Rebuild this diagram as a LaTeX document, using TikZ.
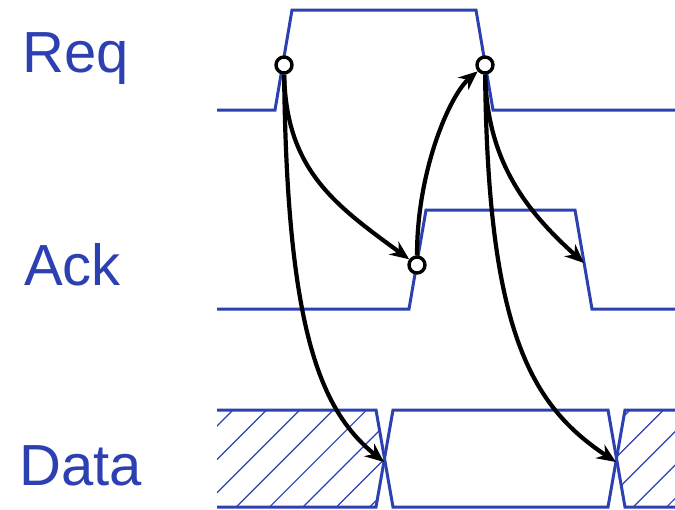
\documentclass[tikz,border=0pt]{standalone}
\usepackage{fontspec}
\setmainfont{Liberation Sans}
\usetikzlibrary{arrows.meta}
\definecolor{wblue}{RGB}{44,64,178}
\pgfdeclarelayer{front}
\pgfsetlayers{main,front}
\begin{document}
\begin{tikzpicture}[x=1pt,y=-1pt,
  wave/.style={draw=wblue,line width=3pt,line join=miter},
  hatchline/.style={draw=wblue,line width=1.2pt},
  lbl/.style={text=wblue,font=\fontsize{58}{62}\selectfont,anchor=base west,inner sep=0pt},
  dot/.style={circle,draw=black,fill=white,line width=3.4pt,minimum size=16pt,inner sep=0pt},
  arr/.style={draw=black,line width=4.2pt,-{Stealth[length=19pt,width=16pt]}}]
\useasboundingbox (0,0) rectangle (675,509);

% labels
\node[lbl] (lreq) at (22,72) {Req};
\node[lbl] (lack) at (24,285) {Ack};
\node[lbl] (ldata) at (19,485) {Data};

% waveforms
\draw[wave] (217,110) -- (275,110) -- (292,10) -- (476,10) -- (493,110) -- (675,110);
\draw[wave] (217,309) -- (409,309) -- (426,210) -- (575,210) -- (592,309) -- (675,309);
\draw[wave] (217,410) -- (376,410) -- (393,507) -- (608,507) -- (625,410) -- (675,410);
\draw[wave] (217,507) -- (376,507) -- (393,410) -- (608,410) -- (625,507) -- (675,507);

% hatching
\begin{scope}
  \clip (217,410) -- (376,410) -- (384.5,458.5) -- (376,507) -- (217,507) -- cycle;
  \foreach \k in {-1,...,9} {
    \draw[hatchline] ({643+33.4*\k-530},530) -- ({643+33.4*\k-390},390);
  }
\end{scope}
\begin{scope}
  \clip (675,410) -- (625,410) -- (616.5,458.5) -- (625,507) -- (675,507) -- cycle;
  \foreach \k in {-2,...,5} {
    \draw[hatchline] ({1040+33.4*\k-530},530) -- ({1040+33.4*\k-390},390);
  }
\end{scope}

% event points
\begin{pgfonlayer}{front}
  \node[dot] (r1) at (284,65) {};
  \node[dot] (r2) at (485,65) {};
  \node[dot] (a1) at (417,265) {};
\end{pgfonlayer}
\coordinate (a2) at (584,263);
\coordinate (d1) at (384,462);
\coordinate (d2) at (616,462);

% causality arrows
\draw[arr] (r1) .. controls (286,170) and (335,205) .. (a1);
\draw[arr] (r1) .. controls (287,330) and (320,410) .. (d1);
\draw[arr] (a1) .. controls (417,170) and (450,95) .. (r2);
\draw[arr] (r2) .. controls (487,160) and (525,210) .. (a2);
\draw[arr] (r2) .. controls (488,330) and (530,405) .. (d2);
\end{tikzpicture}
\end{document}
